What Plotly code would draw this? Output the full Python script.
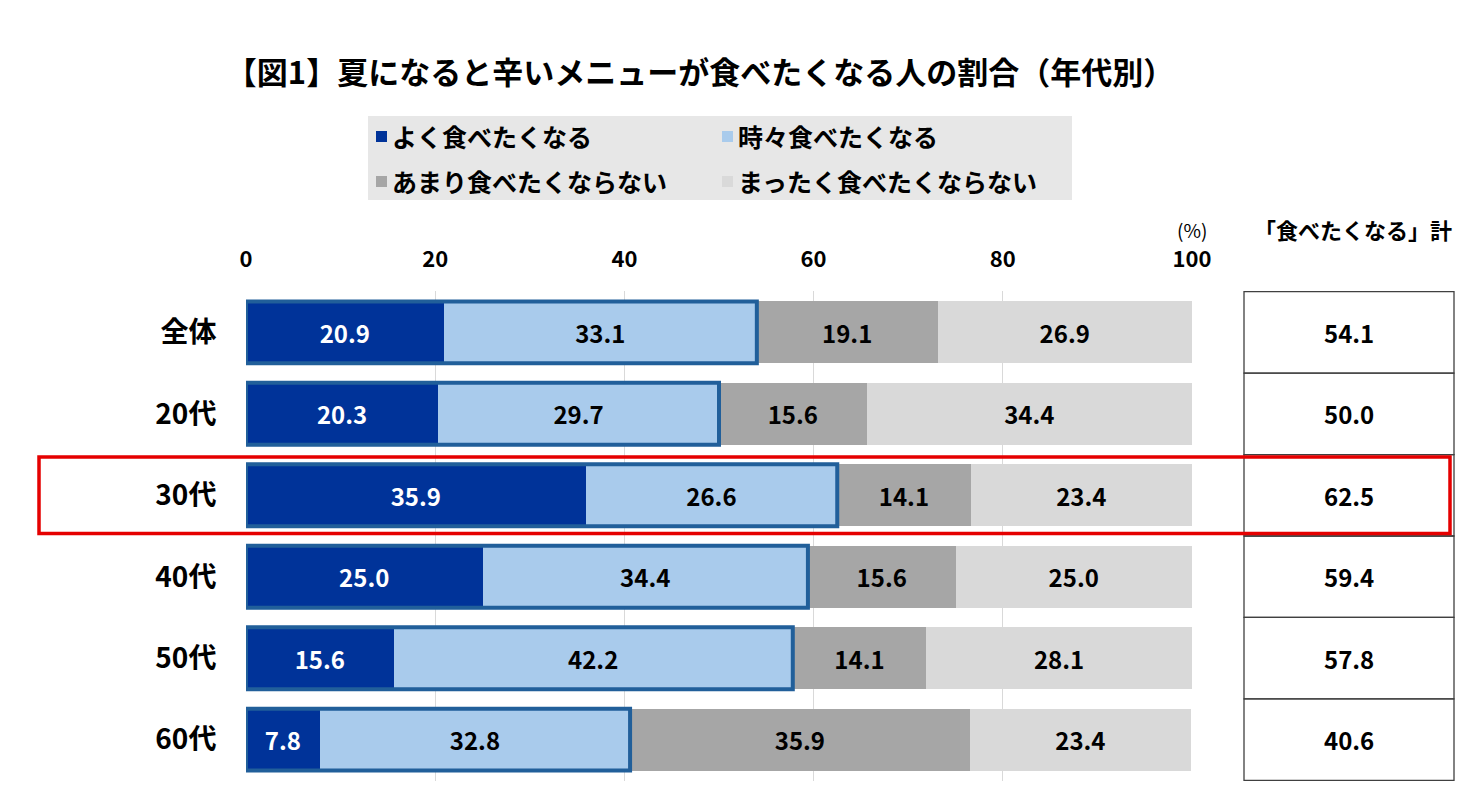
import plotly.graph_objects as go

# 年代別カテゴリ
ages = ["全体", "20代", "30代", "40代", "50代", "60代"]

# 各回答の割合 (%)
often = [20.9, 20.3, 35.9, 25.0, 15.6, 7.8]
sometimes = [33.1, 29.7, 26.6, 34.4, 42.2, 32.8]
rarely = [19.1, 15.6, 14.1, 15.6, 14.1, 35.9]
never = [26.9, 34.4, 23.4, 25.0, 28.1, 23.4]

# 「食べたくなる」計
totals = [54.1, 50.0, 62.5, 59.4, 57.8, 40.6]

series_names = ["よく食べたくなる", "時々食べたくなる", "あまり食べたくならない", "まったく食べたくならない"]
series_colors = ["#003399", "#A9CBEC", "#A6A6A6", "#D9D9D9"]
text_colors = ["white", "black", "black", "black"]

x_ticks = [0, 20, 40, 60, 80, 100]
highlight = "30代"

FONT = "Noto Sans CJK JP"

W, H = 1475, 796
OFF = 8  # ページ余白の補正
L, T = 246 - OFF, 291 - OFF
R, B = W - (1192 - OFF), H - (781 - OFF)
plot_w = W - L - R
plot_h = H - T - B


def px_x(px):
    # 画面ピクセル位置 -> paper座標
    return (px - OFF - L) / plot_w


def px_y(py):
    return (H - B - (py - OFF)) / plot_h


fig = go.Figure()
for name, vals, color, tcolor in zip(series_names, [often, sometimes, rarely, never], series_colors, text_colors):
    fig.add_trace(go.Bar(
        y=ages, x=vals, name=name, orientation="h",
        marker=dict(color=color, line=dict(width=0)),
        text=[f"{v:.1f}" for v in vals],
        textposition="inside", insidetextanchor="middle", textangle=0,
        constraintext="none",
        textfont=dict(family=FONT, size=24, color=tcolor, weight="bold"),
        showlegend=False, hoverinfo="skip",
    ))

shapes = []
annotations = []

# 「食べたくなる」部分の枠線
for i, (a, b) in enumerate(zip(often, sometimes)):
    shapes.append(dict(type="rect", xref="x", yref="y", x0=0, x1=a + b, y0=i - 0.38, y1=i + 0.38,
                       line=dict(color="#215F9A", width=4), fillcolor="rgba(0,0,0,0)", layer="above"))

# 右側の合計表
for i, t in enumerate(totals):
    shapes.append(dict(type="rect", xref="paper", yref="y", x0=px_x(1244), x1=px_x(1454),
                       y0=i - 0.5, y1=i + 0.5, line=dict(color="#404040", width=1.3)))
    annotations.append(dict(xref="paper", yref="y", x=px_x(1349), y=ages[i], text=f"{t:.1f}",
                            xanchor="center", yanchor="middle", showarrow=False,
                            font=dict(family=FONT, size=24, color="black", weight="bold")))

# 30代の強調枠
hi = ages.index(highlight)
shapes.append(dict(type="rect", xref="paper", yref="y", x0=px_x(39), x1=px_x(1450),
                   y0=hi - 0.47, y1=hi + 0.47, line=dict(color="#E50000", width=3.5), layer="above"))

# 凡例 (手描き)
shapes.append(dict(type="rect", xref="paper", yref="paper", x0=px_x(368), x1=px_x(1072),
                   y0=px_y(200), y1=px_y(116), fillcolor="#E7E7E7", line=dict(width=0), layer="below"))
legend_pos = [(376, 136), (722, 136), (376, 181), (722, 181)]
for name, color, (lx, ly) in zip(series_names, series_colors, legend_pos):
    shapes.append(dict(type="rect", xref="paper", yref="paper", x0=px_x(lx), x1=px_x(lx + 11),
                       y0=px_y(ly + 6), y1=px_y(ly - 5), fillcolor=color, line=dict(width=0)))
    annotations.append(dict(xref="paper", yref="paper", x=px_x(lx + 14), y=px_y(ly), text=name,
                            xanchor="left", yanchor="middle", showarrow=False,
                            font=dict(family=FONT, size=25, color="black", weight="bold")))

annotations.append(dict(xref="paper", yref="paper", x=px_x(1192), y=px_y(229), text="(%)",
                        xanchor="center", yanchor="middle", showarrow=False,
                        font=dict(family=FONT, size=19, color="black")))
annotations.append(dict(xref="paper", yref="paper", x=px_x(1353), y=px_y(229), text="「食べたくなる」計",
                        xanchor="center", yanchor="middle", showarrow=False,
                        font=dict(family=FONT, size=22, color="black", weight="bold")))

fig.update_layout(
    width=W, height=H,
    margin=dict(l=L, r=R, t=T, b=B),
    paper_bgcolor="white", plot_bgcolor="white",
    barmode="stack", bargap=0.24,
    title=dict(text="【図1】夏になると辛いメニューが食べたくなる人の割合（年代別）",
               x=(700 - OFF) / W, y=1 - (73 - OFF) / H, xanchor="center", yanchor="middle",
               xref="container", yref="container",
               font=dict(family=FONT, size=31, color="black", weight="bold")),
    xaxis=dict(range=[0, 100], tickvals=x_ticks, side="top", showgrid=True, gridcolor="#D9D9D9",
               gridwidth=1.3, zeroline=False, showline=False, ticks="outside", ticklen=14,
               tickcolor="rgba(0,0,0,0)", tickfont=dict(family=FONT, size=22, color="black", weight="bold")),
    yaxis=dict(autorange="reversed", showgrid=False, showline=False, ticks="outside", ticklen=23,
               tickcolor="rgba(0,0,0,0)", tickfont=dict(family=FONT, size=28, color="black", weight="bold")),
    shapes=shapes,
    annotations=annotations,
    showlegend=False,
)

fig.write_html("out.html")
